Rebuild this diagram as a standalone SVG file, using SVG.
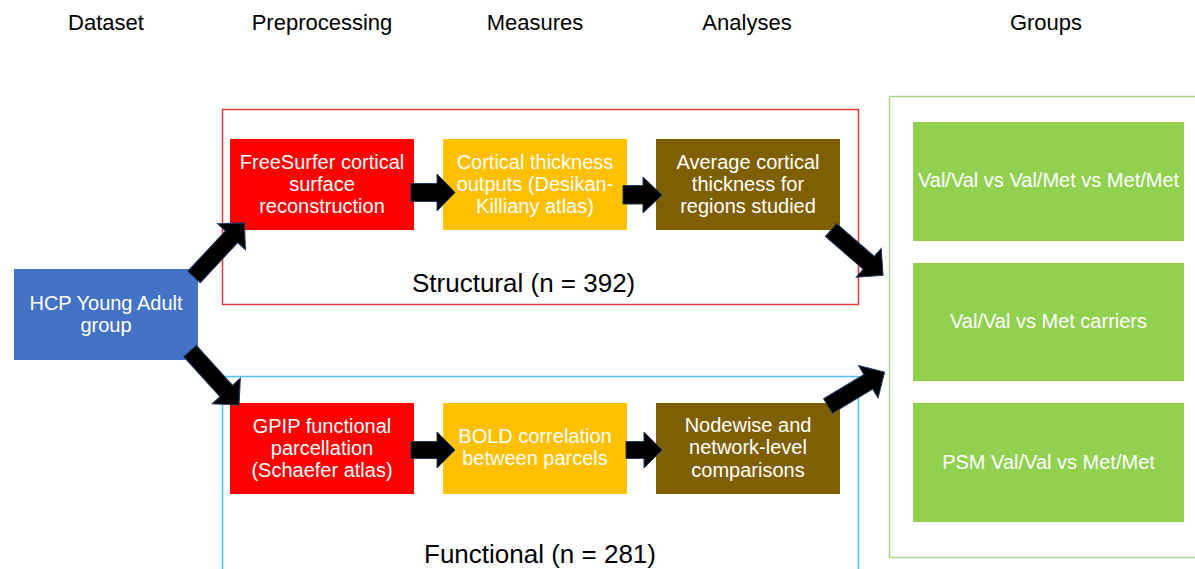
<svg xmlns="http://www.w3.org/2000/svg" width="1195" height="569" viewBox="0 0 1195 569">
<style>
text{font-family:"Liberation Sans",Arial,sans-serif;}
.hdr{font-size:22px;fill:#000;text-anchor:middle;}
.lbl{font-size:26px;fill:#000;}
.nt{font-size:20px;fill:#fff;text-anchor:middle;}
.arr{fill:#000;stroke:#1f3864;stroke-width:1;stroke-linejoin:miter;}
</style>
<rect width="1195" height="569" fill="#fff"/>
<g id="headers">
<text class="hdr" x="106" y="30">Dataset</text>
<text class="hdr" x="322" y="30">Preprocessing</text>
<text class="hdr" x="535" y="30">Measures</text>
<text class="hdr" x="747" y="30">Analyses</text>
<text class="hdr" x="1046" y="30">Groups</text>
</g>
<g id="structural">
<rect x="222.5" y="109.5" width="636" height="195" fill="none" stroke="#e0393e" stroke-width="1.5"/>
<text class="lbl" x="412" y="292">Structural (n = 392)</text>
</g>
<g id="functional">
<rect x="222.5" y="376.5" width="636" height="210" fill="none" stroke="#4cc4f0" stroke-width="1.5"/>
<text class="lbl" x="424" y="563">Functional (n = 281)</text>
</g>
<g id="groups">
<rect x="889.5" y="96.5" width="320" height="461" fill="none" stroke="#a9d88a" stroke-width="1.5"/>
</g>
<g id="hcp">
<rect x="14" y="269" width="184" height="91" fill="#4472c4"/>
<text class="nt" x="106" y="310">HCP Young Adult</text>
<text class="nt" x="106" y="332">group</text>
</g>
<g id="freesurfer">
<rect x="230" y="139" width="184" height="91" fill="#ff0000"/>
<text class="nt" x="322" y="169">FreeSurfer cortical</text>
<text class="nt" x="322" y="191">surface</text>
<text class="nt" x="322" y="213">reconstruction</text>
</g>
<g id="thickness">
<rect x="443" y="139" width="184" height="91" fill="#ffc000"/>
<text class="nt" x="535" y="169">Cortical thickness</text>
<text class="nt" x="535" y="191">outputs (Desikan-</text>
<text class="nt" x="535" y="213">Killiany atlas)</text>
</g>
<g id="average">
<rect x="656" y="139" width="184" height="91" fill="#7f6000"/>
<text class="nt" x="748" y="169">Average  cortical</text>
<text class="nt" x="748" y="191">thickness for</text>
<text class="nt" x="748" y="213">regions studied</text>
</g>
<g id="gpip">
<rect x="230" y="403" width="184" height="91" fill="#ff0000"/>
<text class="nt" x="322" y="433">GPIP functional</text>
<text class="nt" x="322" y="455">parcellation</text>
<text class="nt" x="322" y="477">(Schaefer atlas)</text>
</g>
<g id="bold">
<rect x="443" y="403" width="184" height="91" fill="#ffc000"/>
<text class="nt" x="535" y="443">BOLD correlation</text>
<text class="nt" x="535" y="465">between parcels</text>
</g>
<g id="nodewise">
<rect x="656" y="403" width="184" height="91" fill="#7f6000"/>
<text class="nt" x="748" y="432">Nodewise and</text>
<text class="nt" x="748" y="454">network-level</text>
<text class="nt" x="748" y="477">comparisons</text>
</g>
<g id="group1">
<rect x="913" y="122" width="271" height="119" fill="#92d050"/>
<text class="nt" x="1048.5" y="187">Val/Val vs Val/Met vs Met/Met</text>
</g>
<g id="group2">
<rect x="913" y="263" width="271" height="118" fill="#92d050"/>
<text class="nt" x="1048.5" y="328">Val/Val vs Met carriers</text>
</g>
<g id="group3">
<rect x="913" y="403" width="271" height="119" fill="#92d050"/>
<text class="nt" x="1048.5" y="469">PSM Val/Val vs Met/Met</text>
</g>
<g id="connectors">
<polygon class="arr" points="411,183.5 437,183.5 437,174 455,192.5 437,211 437,201.5 411,201.5"/>
<polygon class="arr" points="623,185.5 643,185.5 643,177 662,195 643,213 643,204 623,204"/>
<polygon class="arr" points="411,441.5 437,441.5 437,432 455,450 437,468 437,458.5 411,458.5"/>
<polygon class="arr" points="626,441.5 644,441.5 644,432 662,450 644,468 644,458.5 626,458.5"/>
<polygon class="arr" transform="translate(194,277) rotate(-47)" points="0,-8.5 55,-8.5 55,-19 74,0 55,19 55,8.5 0,8.5"/>
<polygon class="arr" transform="translate(190,351) rotate(47.8)" points="0,-8.5 54,-8.5 54,-19 73,0 54,19 54,8.5 0,8.5"/>
<polygon class="arr" transform="translate(831,230) rotate(41)" points="0,-8.5 50,-8.5 50,-19 69,0 50,19 50,8.5 0,8.5"/>
<polygon class="arr" transform="translate(828,406) rotate(-31)" points="0,-8.5 47,-8.5 47,-19 66,0 47,19 47,8.5 0,8.5"/>
</g>
</svg>
